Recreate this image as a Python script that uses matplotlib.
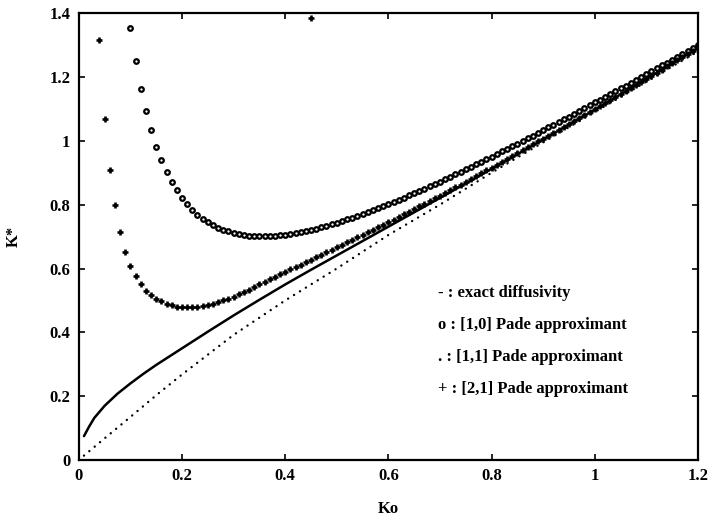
import numpy as np
import matplotlib
matplotlib.use("Agg")
import matplotlib.pyplot as plt

plt.rcParams['font.family'] = ['Liberation Serif', 'DejaVu Serif']
plt.rcParams['font.weight'] = 'bold'

# ---- data ----
# exact diffusivity (solid line)
exact_ko = [0.01, 0.02, 0.03, 0.05, 0.075, 0.10, 0.125, 0.15, 0.20, 0.25, 0.30,
            0.35, 0.40, 0.45, 0.50, 0.60, 0.70, 0.80, 0.90, 1.00, 1.10, 1.20]
exact_k = [0.075, 0.105, 0.132, 0.170, 0.208, 0.240, 0.270, 0.298, 0.350, 0.402, 0.453,
           0.502, 0.550, 0.596, 0.641, 0.731, 0.821, 0.912, 1.004, 1.097, 1.193, 1.290]

# [1,1] Pade approximant (dotted)
pade11_ko = [0.01, 0.05, 0.10, 0.15, 0.20, 0.25, 0.30, 0.40, 0.50, 0.60,
             0.70, 0.80, 0.90, 1.00, 1.10, 1.20]
pade11_k = [0.014, 0.068, 0.135, 0.203, 0.268, 0.330, 0.392, 0.500, 0.600, 0.705,
            0.800, 0.900, 0.995, 1.090, 1.185, 1.280]

# [1,0] Pade approximant (circles), Ko = 0.10 ... 1.20 step 0.01
pade10_ko = np.round(np.arange(0.10, 1.2001, 0.01), 2)
pade10_k = [1.354, 1.249, 1.163, 1.092, 1.033, 0.982, 0.940, 0.903, 0.872, 0.845,
            0.822, 0.801, 0.784, 0.769, 0.756, 0.745, 0.736, 0.728, 0.721, 0.716,
            0.711, 0.708, 0.705, 0.703, 0.702, 0.701, 0.701, 0.702, 0.703, 0.704,
            0.706, 0.709, 0.711, 0.714, 0.718, 0.721, 0.725, 0.730, 0.734, 0.739,
            0.744, 0.749, 0.754, 0.759, 0.765, 0.771, 0.777, 0.783, 0.789, 0.795,
            0.802, 0.808, 0.815, 0.822, 0.829, 0.836, 0.843, 0.850, 0.857, 0.865,
            0.872, 0.880, 0.887, 0.895, 0.903, 0.911, 0.918, 0.926, 0.934, 0.942,
            0.950, 0.958, 0.967, 0.975, 0.983, 0.991, 0.999, 1.008, 1.016, 1.025,
            1.033, 1.042, 1.050, 1.059, 1.067, 1.076, 1.085, 1.093, 1.102, 1.111,
            1.120, 1.129, 1.137, 1.146, 1.155, 1.164, 1.173, 1.182, 1.191, 1.200,
            1.209, 1.218, 1.227, 1.236, 1.245, 1.254, 1.263, 1.272, 1.281, 1.291,
            1.300]

# [2,1] Pade approximant (plus), Ko = 0.04 ... 1.20 step 0.01
pade21_ko = np.round(np.arange(0.04, 1.2001, 0.01), 2)
pade21_k = [1.315, 1.068, 0.910, 0.800, 0.714, 0.653, 0.609, 0.578, 0.553, 0.531,
            0.517, 0.506, 0.497, 0.490, 0.485, 0.481, 0.479, 0.479, 0.480, 0.481,
            0.484, 0.487, 0.490, 0.495, 0.500, 0.505, 0.511, 0.519, 0.526, 0.534,
            0.542, 0.550, 0.558, 0.566, 0.574, 0.582, 0.589, 0.597, 0.604, 0.612,
            0.620, 0.628, 0.636, 0.643, 0.651, 0.659, 0.667, 0.675, 0.683, 0.690,
            0.698, 0.706, 0.714, 0.722, 0.730, 0.737, 0.745, 0.753, 0.761, 0.770,
            0.778, 0.786, 0.795, 0.803, 0.811, 0.820, 0.828, 0.837, 0.846, 0.854,
            0.863, 0.872, 0.881, 0.890, 0.898, 0.907, 0.916, 0.925, 0.934, 0.944,
            0.952, 0.962, 0.971, 0.980, 0.989, 0.998, 1.007, 1.016, 1.026, 1.035,
            1.044, 1.053, 1.062, 1.072, 1.080, 1.090, 1.099, 1.109, 1.118, 1.128,
            1.137, 1.147, 1.156, 1.166, 1.175, 1.185, 1.194, 1.204, 1.213, 1.223,
            1.233, 1.243, 1.252, 1.262, 1.272, 1.281, 1.291]
# isolated [2,1] point near the top edge
pade21_stray_ko = [0.45]
pade21_stray_k = [1.386]

legend_lines = ["- : exact diffusivity",
                "o : [1,0] Pade approximant",
                ". : [1,1] Pade approximant",
                "+ : [2,1] Pade approximant"]
xticks = [0, 0.2, 0.4, 0.6, 0.8, 1, 1.2]
xtick_labels = ["0", "0.2", "0.4", "0.6", "0.8", "1", "1.2"]
yticks = [0, 0.2, 0.4, 0.6, 0.8, 1, 1.2, 1.4]
ytick_labels = ["0", "0.2", "0.4", "0.6", "0.8", "1", "1.2", "1.4"]

# ---- figure ----
fig = plt.figure(figsize=(7.10, 5.24), dpi=100)
ax = fig.add_axes([0.111, 0.122, 0.872, 0.853])

ax.plot(exact_ko, exact_k, color='black', lw=1.8, solid_capstyle='round')
ax.plot(pade11_ko, pade11_k, color='black', lw=1.7,
        linestyle=(0, (0.05, 2.9)), dash_capstyle='round')
ax.plot(pade10_ko, pade10_k, linestyle='none', marker='o', ms=3.3,
        mfc='white', mec='black', mew=1.6)
ax.plot(pade21_ko, pade21_k, linestyle='none', marker='+', ms=4.6,
        color='black', mew=1.9)
ax.plot(pade21_stray_ko, pade21_stray_k, linestyle='none', marker='+', ms=4.6,
        color='black', mew=1.9, clip_on=False)

ax.set_xlim(0, 1.2)
ax.set_ylim(0, 1.4)
ax.set_xticks(xticks)
ax.set_xticklabels(xtick_labels)
ax.set_yticks(yticks)
ax.set_yticklabels(ytick_labels)
ax.tick_params(direction='in', length=4, width=1.2, top=True, right=True,
               labelsize=12, pad=6)
for lab in ax.get_xticklabels() + ax.get_yticklabels():
    lab.set_fontweight('bold')
for sp in ax.spines.values():
    sp.set_linewidth(1.6)

ax.set_xlabel("Ko", fontsize=12, fontweight='bold', labelpad=12)
ax.set_ylabel("K*", fontsize=12, fontweight='bold', labelpad=20)

legend_y = [0.523, 0.423, 0.323, 0.222]
for txt, yy in zip(legend_lines, legend_y):
    ax.text(0.697, yy, txt, fontsize=12, fontweight='bold', va='center', ha='left')

fig.savefig("out.png", dpi=100)
